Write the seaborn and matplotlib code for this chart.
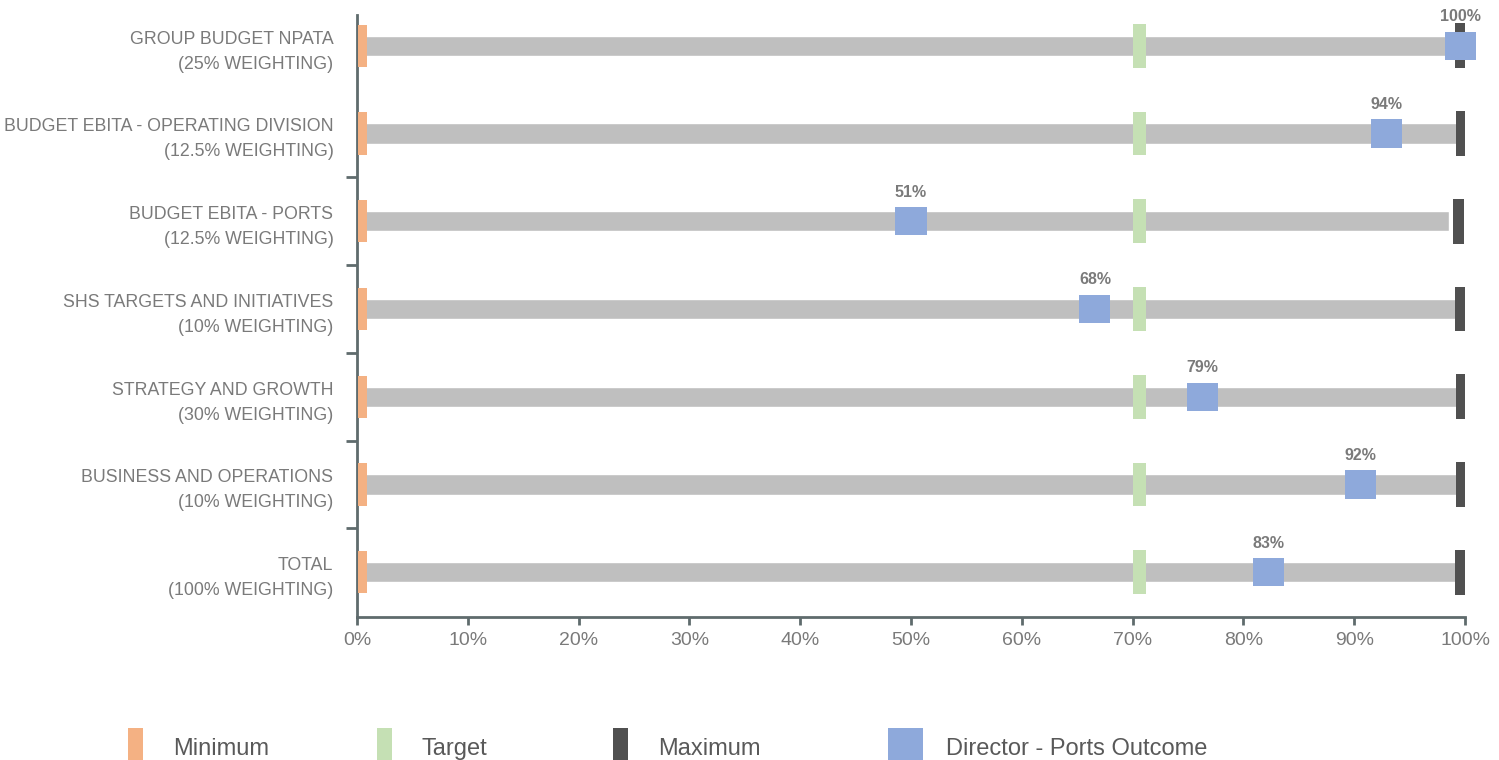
import numpy as np
import pandas as pd
import matplotlib
matplotlib.use("Agg")
import matplotlib.pyplot as plt
from matplotlib.patches import Rectangle
import seaborn as sns

# ---- data ----
categories = [
    "GROUP BUDGET NPATA\n(25% WEIGHTING)",
    "BUDGET EBITA - OPERATING DIVISION\n(12.5% WEIGHTING)",
    "BUDGET EBITA - PORTS\n(12.5% WEIGHTING)",
    "SHS TARGETS AND INITIATIVES\n(10% WEIGHTING)",
    "STRATEGY AND GROWTH\n(30% WEIGHTING)",
    "BUSINESS AND OPERATIONS\n(10% WEIGHTING)",
    "TOTAL\n(100% WEIGHTING)",
]
range_end = [99.3, 99.3, 98.6, 99.3, 99.3, 99.3, 99.3]
minimum = [0.5, 0.5, 0.5, 0.5, 0.5, 0.5, 0.5]
target = [70.6, 70.6, 70.6, 70.6, 70.6, 70.6, 70.6]
maximum = [99.6, 99.7, 99.4, 99.6, 99.7, 99.7, 99.6]
outcome = [99.6, 92.9, 50.0, 66.6, 76.3, 90.6, 82.3]
outcome_labels = ["100%", "94%", "51%", "68%", "79%", "92%", "83%"]
x_ticks = [0, 10, 20, 30, 40, 50, 60, 70, 80, 90, 100]
x_tick_labels = ["0%", "10%", "20%", "30%", "40%", "50%", "60%", "70%", "80%", "90%", "100%"]
legend_labels = ["Minimum", "Target", "Maximum", "Director - Ports Outcome"]

# ---- style ----
sns.set_theme(style="white")
plt.rcParams["font.family"] = ["Liberation Sans", "DejaVu Sans"]

C_MIN = "#F4B183"
C_TGT = "#C5E0B4"
C_MAX = "#505050"
C_OUT = "#8EA9DB"
C_BAR = "#BFBFBF"
C_AXIS = "#5F6B6D"
C_TXT = "#7A7A7A"

W, H = 1499, 760
fig = plt.figure(figsize=(W / 100, H / 100), dpi=100)
ax = fig.add_axes([357 / W, 1 - 617 / H, (1465 - 357) / W, (617 - 15) / H])

df = pd.DataFrame({"cat": categories, "end": range_end})
sns.barplot(data=df, x="end", y="cat", color=C_BAR, saturation=1, width=0.23,
            orient="h", ax=ax, zorder=2)

y = np.arange(len(categories))


def marks(vals, w, h, color, z, clip=True):
    v = np.asarray(vals, dtype=float)
    ax.barh(y, width=w, left=v - w / 2, height=h, color=color, zorder=z,
            clip_on=clip, linewidth=0)


marks(minimum, 0.8, 0.48, C_MIN, 3)
marks(target, 1.2, 0.50, C_TGT, 3)
marks(maximum, 1.0, 0.51, C_MAX, 3)
out_h = 0.32
marks(outcome, 2.8, out_h, C_OUT, 4, clip=False)

for yi, v, lab in zip(y, outcome, outcome_labels):
    ax.annotate(lab, (v, yi - out_h / 2), xytext=(0, 5.5), textcoords="offset points",
                ha="center", va="bottom", fontsize=11.5, fontweight="bold",
                color=C_TXT, annotation_clip=False, zorder=5)

ax.set_xlim(0, 100)
ax.set_ylim(6.51, -0.35)
ax.set_xlabel("")
ax.set_ylabel("")

for s in ["top", "right"]:
    ax.spines[s].set_visible(False)
for s in ["left", "bottom"]:
    ax.spines[s].set_color(C_AXIS)
    ax.spines[s].set_linewidth(2)

ax.set_xticks(x_ticks)
ax.set_xticklabels(x_tick_labels)
ax.tick_params(axis="x", which="major", length=6, width=2, color=C_AXIS,
               direction="out", pad=5, labelsize=14, labelcolor=C_TXT, bottom=True)
ax.set_yticks(y)
ax.set_yticklabels(categories, linespacing=1.6)
ax.tick_params(axis="y", which="major", length=0, pad=17, labelsize=12.8,
               labelcolor=C_TXT, left=True)
ax.set_yticks([1.5, 2.5, 3.5, 4.5, 5.5], minor=True)
ax.tick_params(axis="y", which="minor", length=8, width=2, color=C_AXIS,
               direction="out", left=True)
fig.canvas.draw()
for t in ax.get_yticklabels():
    t.set_linespacing(1.6)

# ---- legend ----
leg_colors = [C_MIN, C_TGT, C_MAX, C_OUT]
patch_x = [128, 377, 613, 888]
patch_w = [15, 15, 15, 35]
text_x = [173, 421, 658, 946]
for px, pw, tx, col, lab in zip(patch_x, patch_w, text_x, leg_colors, legend_labels):
    fig.patches.append(Rectangle((px / W, 0), pw / W, 32 / H, transform=fig.transFigure,
                                 facecolor=col, edgecolor="none"))
    fig.text(tx / W, 1 - 749 / H, lab, ha="left", va="center", fontsize=17,
             color="#595959")

fig.savefig("out.png", dpi=100)
